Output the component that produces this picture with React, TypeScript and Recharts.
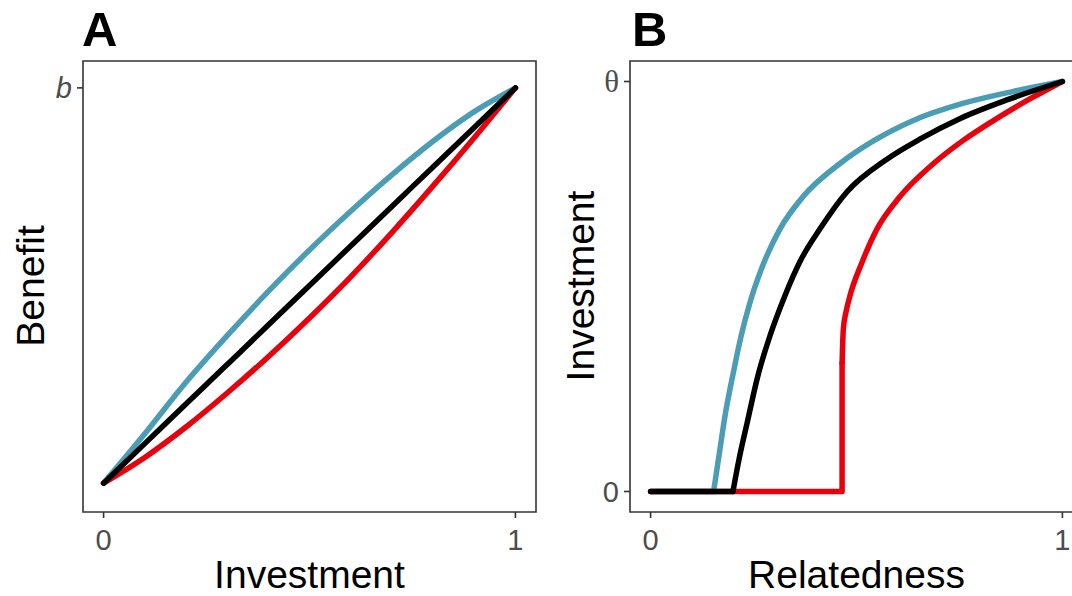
import { LineChart, Line, XAxis, YAxis, ReferenceArea } from 'recharts'

// Panel A: benefit vs investment
const investX = [0, 0.1, 0.2, 0.3, 0.4, 0.5, 0.6, 0.7, 0.8, 0.9, 1]
const benefitBlue = [0, 0.125, 0.255, 0.373, 0.485, 0.59, 0.688, 0.78, 0.865, 0.94, 1]
const benefitBlack = [0, 0.1, 0.2, 0.3, 0.4, 0.5, 0.6, 0.7, 0.8, 0.9, 1]
const benefitRed = [0, 0.065, 0.142, 0.228, 0.32, 0.418, 0.522, 0.634, 0.752, 0.874, 1]

// Panel B: investment vs relatedness (flat part at zero, then the rising curve)
const blueFlatX = [0, 0.153]
const blueFlatY = [0, 0]
const blueCurveX = [0.153, 0.165, 0.18, 0.203, 0.22, 0.241, 0.27, 0.314, 0.371, 0.46, 0.541, 0.638, 0.76, 0.881, 1]
const blueCurveY = [0, 0.08, 0.18, 0.3, 0.38, 0.46, 0.545, 0.64, 0.72, 0.8, 0.855, 0.905, 0.947, 0.976, 1]

const blackFlatX = [0, 0.2]
const blackFlatY = [0, 0]
const blackCurveX = [0.2, 0.215, 0.235, 0.26, 0.29, 0.326, 0.365, 0.411, 0.476, 0.573, 0.655, 0.752, 0.865, 1]
const blackCurveY = [0, 0.08, 0.17, 0.28, 0.38, 0.477, 0.565, 0.64, 0.73, 0.81, 0.86, 0.91, 0.955, 1]

const redFlatX = [0, 0.465, 0.465]
const redFlatY = [0, 0, 0.313]
const redCurveX = [0.465, 0.468, 0.475, 0.484, 0.513, 0.549, 0.606, 0.687, 0.76, 0.841, 0.922, 1]
const redCurveY = [0.313, 0.396, 0.44, 0.477, 0.558, 0.639, 0.72, 0.8, 0.857, 0.91, 0.958, 1]

const BLUE = '#4a9db4'
const RED = '#e8000d'
const FONT = '"Liberation Sans", Arial, sans-serif'
const TICK = { fill: '#4d4d4d', fontSize: 29, fontFamily: FONT }
const LINE_W = 5.5

const toPoints = (xs: number[], ys: number[]) => xs.map((x, i) => ({ x, y: ys[i] }))

function ThetaTick(props: any) {
  const { x, y, payload } = props
  const isTheta = payload.value === 1
  return (
    <text
      x={x}
      y={y}
      dy="0.35em"
      textAnchor="end"
      fill="#4d4d4d"
      fontSize={isTheta ? 31 : 29}
      fontFamily={isTheta ? '"Liberation Serif", serif' : FONT}
    >
      {isTheta ? 'θ' : '0'}
    </text>
  )
}

function series(key: string, data: { x: number; y: number }[], color: string, type: 'monotone' | 'linear') {
  return (
    <Line
      key={key}
      data={data}
      dataKey="y"
      type={type}
      stroke={color}
      strokeWidth={LINE_W}
      strokeLinecap="round"
      strokeLinejoin="round"
      dot={false}
      activeDot={false}
      isAnimationActive={false}
    />
  )
}

const axisCommon = {
  type: 'number' as const,
  allowDataOverflow: true,
  tickSize: 6,
  axisLine: false,
  tickLine: { stroke: '#333', strokeWidth: 1.6 },
}

export default function App() {
  const xDomain = [-0.05, 1.05]
  const aYDomain = [-0.073, 1.068]
  const bYDomain = [-0.05, 1.05]

  return (
    <div style={{ position: 'absolute', left: 0, top: 0, width: 1072, height: 596, overflow: 'hidden', background: '#fff' }}>
      <div style={{ position: 'absolute', left: 0, top: 0 }}>
        <LineChart width={560} height={596} margin={{ top: 61, right: 24, bottom: 0, left: 0 }}>
          <XAxis
            {...axisCommon}
            dataKey="x"
            domain={xDomain}
            ticks={[0, 1]}
            height={84}
            tickMargin={11}
            tick={TICK}
            label={{ value: 'Investment', position: 'insideBottom', offset: 8, fill: '#000', fontSize: 39, fontFamily: FONT }}
          />
          <YAxis
            {...axisCommon}
            domain={aYDomain}
            ticks={[1]}
            width={83}
            tickMargin={5}
            tickFormatter={() => 'b'}
            tick={{ ...TICK, fontStyle: 'italic' }}
          />
          <ReferenceArea x1={-0.05} x2={1.05} y1={-0.073} y2={1.068} fill="none" stroke="#333" strokeWidth={1.6} ifOverflow="visible" />
          {series('a-blue', toPoints(investX, benefitBlue), BLUE, 'monotone')}
          {series('a-red', toPoints(investX, benefitRed), RED, 'monotone')}
          {series('a-black', toPoints(investX, benefitBlack), '#000', 'monotone')}
        </LineChart>
      </div>

      <div style={{ position: 'absolute', left: 560, top: 0 }}>
        <LineChart width={533} height={596} margin={{ top: 61, right: 10, bottom: 0, left: 0 }}>
          <XAxis
            {...axisCommon}
            dataKey="x"
            domain={xDomain}
            ticks={[0, 1]}
            height={84}
            tickMargin={11}
            tick={TICK}
            label={{ value: 'Relatedness', position: 'insideBottom', offset: 8, fill: '#000', fontSize: 39, fontFamily: FONT }}
          />
          <YAxis
            {...axisCommon}
            domain={bYDomain}
            ticks={[0, 1]}
            width={70}
            tickMargin={5}
            tick={<ThetaTick />}
          />
          <ReferenceArea x1={-0.05} x2={1.05} y1={-0.05} y2={1.05} fill="none" stroke="#333" strokeWidth={1.6} ifOverflow="visible" />
          {series('b-blue-flat', toPoints(blueFlatX, blueFlatY), BLUE, 'linear')}
          {series('b-blue', toPoints(blueCurveX, blueCurveY), BLUE, 'monotone')}
          {series('b-red-flat', toPoints(redFlatX, redFlatY), RED, 'linear')}
          {series('b-red', toPoints(redCurveX, redCurveY), RED, 'monotone')}
          {series('b-black-flat', toPoints(blackFlatX, blackFlatY), '#000', 'linear')}
          {series('b-black', toPoints(blackCurveX, blackCurveY), '#000', 'monotone')}
        </LineChart>
      </div>

      <svg width={1072} height={596} style={{ position: 'absolute', left: 0, top: 0, pointerEvents: 'none' }}>
        <text x={82} y={46} fontSize={49} fontWeight="bold" fontFamily={FONT} fill="#000">A</text>
        <text x={632} y={46} fontSize={49} fontWeight="bold" fontFamily={FONT} fill="#000">B</text>
        <text transform="translate(30,286) rotate(-90)" textAnchor="middle" dominantBaseline="central" fontSize={39} fontFamily={FONT} fill="#000">Benefit</text>
        <text transform="translate(580,286) rotate(-90)" textAnchor="middle" dominantBaseline="central" fontSize={39} fontFamily={FONT} fill="#000">Investment</text>
      </svg>
    </div>
  )
}
